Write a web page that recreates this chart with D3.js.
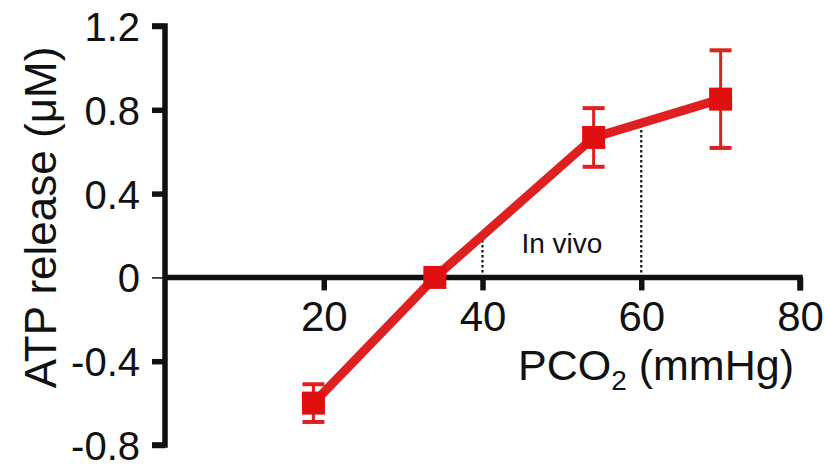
<!DOCTYPE html>
<html>
<head>
<meta charset="utf-8">
<script src="https://cdn.jsdelivr.net/npm/d3@7"></script>
<style>
  html, body { margin: 0; padding: 0; background: #fff; }
  svg { display: block; }
  text { font-family: "Liberation Sans", Arial, Helvetica, sans-serif; fill: #111; }
</style>
</head>
<body>
<svg id="chart" width="825" height="467"></svg>
<script>
// ---- data ----
const pco2 = [18.7, 34, 54, 70];
const atp = [-0.60, 0.0, 0.668, 0.851];
const atpErr = [0.09, 0.02, 0.14, 0.233];
const xTicks = [20, 40, 60, 80];
const yTicks = [1.2, 0.8, 0.4, 0, -0.4, -0.8];
const inVivo = [40, 60];
const yTitle = "ATP release (\u03BCM)";
const inVivoLabel = "In vivo";

const svg = d3.select("#chart");
const x = d3.scaleLinear().domain([0, 80]).range([165, 800]);
const y = d3.scaleLinear().domain([-0.8, 1.2]).range([445, 26]);
const red = "#e01010";
const lineRed = "#de2020";

// ---- y axis ----
const yAxis = d3.axisLeft(y).tickValues(yTicks).tickSize(13).tickPadding(12)
  .tickFormat(d => d === 0 ? "0" : d3.format(".1f")(d).replace("\u2212", "-"));
const gy = svg.append("g").attr("transform", `translate(${x(0)},0)`).call(yAxis);
gy.select(".domain").attr("stroke", "#111").style("stroke-width", "5.5px")
  .attr("d", `M-13,${y(1.2)}H0V${y(-0.8)}H-13`);
gy.selectAll(".tick line").attr("stroke", "#111").style("stroke-width", d => d === 0 ? "1.5px" : "5.5px");
gy.selectAll(".tick text").style("font-size", "40px").attr("fill", "#111").attr("dy", "0.36em");

// ---- x axis ----
const xAxis = d3.axisBottom(x).tickValues(xTicks).tickSize(13).tickPadding(10);
const gx = svg.append("g").attr("transform", `translate(0,${y(0)})`).call(xAxis);
gx.select(".domain").attr("stroke", "#111").style("stroke-width", "5.5px")
  .attr("d", `M${x(0)},0H${x(80)}V13`);
gx.selectAll(".tick line").attr("stroke", "#111").style("stroke-width", "5.5px");
gx.selectAll(".tick text").style("font-size", "42px").attr("fill", "#111").attr("dy", "0.72em");

// ---- axis titles ----
svg.append("text")
  .attr("transform", `translate(56,${(47 + 388) / 2}) rotate(-90)`)
  .attr("text-anchor", "middle")
  .style("font-size", "44px")
  .text(yTitle);

const xt = svg.append("text")
  .attr("x", 518).attr("y", 380)
  .style("font-size", "43px");
xt.append("tspan").text("PCO");
xt.append("tspan").attr("dy", 10).style("font-size", "28px").text("2");
xt.append("tspan").attr("dy", -10).text(" (mmHg)");

// ---- in vivo dotted lines ----
const interp = v => {
  for (let i = 0; i < pco2.length - 1; i++) {
    if (v >= pco2[i] && v <= pco2[i + 1]) {
      const t = (v - pco2[i]) / (pco2[i + 1] - pco2[i]);
      return atp[i] + t * (atp[i + 1] - atp[i]);
    }
  }
  return 0;
};
svg.selectAll(".vivo").data(inVivo).enter().append("line")
  .attr("x1", d => x(d)).attr("x2", d => x(d))
  .attr("y1", y(0)).attr("y2", d => y(interp(d)))
  .attr("stroke", "#111").attr("stroke-width", 2.2).attr("stroke-dasharray", "2.5,2.5");

svg.append("text")
  .attr("x", x(d3.mean(inVivo))).attr("y", 253)
  .attr("text-anchor", "middle")
  .style("font-size", "28px")
  .text(inVivoLabel);

// ---- series line ----
const pts = pco2.map((v, i) => ({ x: v, y: atp[i], e: atpErr[i] }));
svg.append("path").datum(pts)
  .attr("fill", "none").attr("stroke", lineRed).attr("stroke-width", 9)
  .attr("d", d3.line().x(d => x(d.x)).y(d => y(d.y)));

// ---- error bars ----
const eb = svg.selectAll(".eb").data(pts).enter().append("g");
eb.append("line")
  .attr("x1", d => x(d.x)).attr("x2", d => x(d.x))
  .attr("y1", d => y(d.y + d.e)).attr("y2", d => y(d.y - d.e))
  .attr("stroke", lineRed).attr("stroke-width", 3);
[1, -1].forEach(s => {
  eb.append("line")
    .attr("x1", d => x(d.x) - 11).attr("x2", d => x(d.x) + 11)
    .attr("y1", d => y(d.y + s * d.e)).attr("y2", d => y(d.y + s * d.e))
    .attr("stroke", lineRed).attr("stroke-width", 4);
});

// ---- markers ----
const sz = 23;
svg.selectAll(".pt").data(pts).enter().append("rect")
  .attr("x", d => x(d.x) - sz / 2).attr("y", d => y(d.y) - sz / 2)
  .attr("width", sz).attr("height", sz)
  .attr("fill", red);
</script>
</body>
</html>
